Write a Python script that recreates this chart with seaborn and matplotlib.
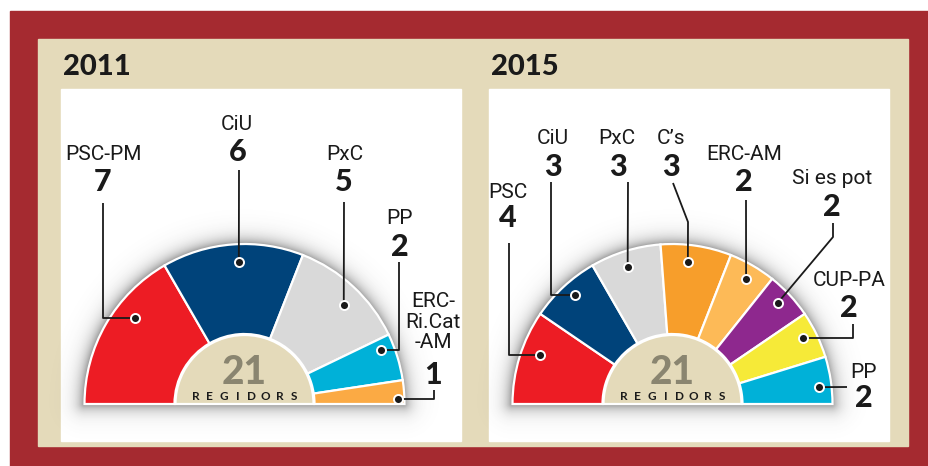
import numpy as np
import matplotlib
matplotlib.use("Agg")
import matplotlib.pyplot as plt
import seaborn as sns
from matplotlib.patches import Rectangle, Wedge
from matplotlib import font_manager

# ---------------- data ----------------
years = ["2011", "2015"]
parties_2011 = ["PSC-PM", "CiU", "PxC", "PP", "ERC-\nRi.Cat\n-AM"]
seats_2011 = [7, 6, 5, 2, 1]
colors_2011 = ["#ED1C24", "#00437A", "#D9D9D9", "#00B1D8", "#FBAA44"]

parties_2015 = ["PSC", "CiU", "PxC", "C\u2019s", "ERC-AM", "Si es pot", "CUP-PA", "PP"]
seats_2015 = [4, 3, 3, 3, 2, 2, 2, 2]
colors_2015 = ["#ED1C24", "#00437A", "#D9D9D9", "#F79E2B", "#FDBA57",
               "#8E288E", "#F6EA38", "#00B1D8"]

total_word = "REGIDORS"

# ---------------- style ----------------
sns.set_theme(style="white")
names = {f.name for f in font_manager.fontManager.ttflist}


def pick(*cands):
    for c in cands:
        if c in names:
            return c
    return "DejaVu Sans"


LABEL_FONT = pick("Liberation Sans Narrow", "Roboto", "Liberation Sans")
HEAVY_FONT = pick("Lato", "Roboto", "Liberation Sans")
plt.rcParams["font.family"] = [LABEL_FONT, "DejaVu Sans"]

W, H = 929, 466
RED = "#A52A30"
BEIGE = "#E4DABA"
INK = "#1A1A1A"


def Y(py):
    return H - py


fig = plt.figure(figsize=(W / 100, H / 100), dpi=100)
ax = fig.add_axes([0, 0, 1, 1])

# frame
ax.add_patch(Rectangle((10, Y(466)), 919, 455, color=RED, zorder=0))
ax.add_patch(Rectangle((38, Y(446)), 870, 407, color=BEIGE, zorder=0.1))
ax.add_patch(Rectangle((61, Y(441)), 400, 352, color="white", zorder=0.2))
ax.add_patch(Rectangle((489, Y(441)), 400, 352, color="white", zorder=0.2))

panels = [
    dict(year=years[0], parties=parties_2011, seats=seats_2011, colors=colors_2011,
         cx=244.5, title_x=63,
         labels=[
             dict(name=(104, 155), num=(103, 182), path="vh", start=(103, 203), r=139, nudge=-8),
             dict(name=(237, 125), num=(238, 152), path="v", start=(239, 170), r=142, nudge=-2),
             dict(name=(345, 155), num=(344, 182), path="v", start=(344, 202), r=140, nudge=-2.3),
             dict(name=(400, 218), num=(400, 247), path="vh", start=(399, 262), r=147, nudge=4.5),
             dict(name=(433, 322), num=(433, 375), path="vh", start=(434, 390), r=154, nudge=-2.4),
         ]),
    dict(year=years[1], parties=parties_2015, seats=seats_2015, colors=colors_2015,
         cx=672.5, title_x=491,
         labels=[
             dict(name=(508, 192), num=(508, 218), path="vh", start=(509, 243), r=141, nudge=-3),
             dict(name=(553, 139), num=(553, 167), path="vh", start=(551, 182), r=146, nudge=-1),
             dict(name=(617, 139), num=(618, 167), path="v", start=(628, 182), r=144, nudge=1),
             dict(name=(671, 139), num=(671, 167), path=[(688, 222)], start=(673, 183), r=143, nudge=2.4),
             dict(name=(744, 155), num=(744, 182), path="v", start=(746, 200), r=145, nudge=-0.5),
             dict(name=(832, 179), num=(832, 207), path=[(833, 237)], start=(833, 223), r=146, nudge=1),
             dict(name=(849, 280), num=(849, 308), path="vh", start=(853, 324), r=146, nudge=1),
             dict(name=(864, 372), num=(864, 398), path="v", start=(847, 387), r=147.5, nudge=-2),
         ]),
]

R_OUT, R_IN = 160, 70
BASE = 404

for p in panels:
    cx, cy = p["cx"], Y(BASE)
    total = sum(p["seats"])

    # soft shadow around the hemicycle
    xs = np.arange(cx - 200, cx + 200, 1.0)
    ys = np.arange(cy - 40, cy + 200, 1.0)
    XX, YY = np.meshgrid(xs, ys)
    rr = np.hypot(XX - cx, YY - cy)
    d_top = np.clip(rr - R_OUT, 0, None)
    dx = np.clip(np.abs(XX - cx) - R_OUT, 0, None)
    d_bot = np.hypot(dx, cy - YY)
    d = np.where(YY >= cy, d_top, d_bot)
    alpha = 0.6 * np.exp(-d / 7.0)
    rgba = np.zeros(XX.shape + (4,))
    rgba[..., :3] = 0.28
    rgba[..., 3] = alpha
    ax.imshow(rgba, extent=(xs[0], xs[-1], ys[0], ys[-1]), origin="lower",
              zorder=0.5, interpolation="bilinear")

    # hemicycle: pie with an invisible lower half
    wedges, _ = ax.pie(p["seats"] + [total], colors=p["colors"] + ["white"],
                       startangle=180, counterclock=False, radius=R_OUT,
                       center=(cx, cy),
                       wedgeprops=dict(width=R_OUT - R_IN, edgecolor="white",
                                       linewidth=1.6))
    wedges[-1].set_visible(False)
    for w in wedges:
        w.set_zorder(2)

    ax.add_patch(Wedge((cx, cy), R_IN - 1, 0, 180, facecolor=BEIGE,
                       edgecolor="white", linewidth=1.6, zorder=3))
    ax.text(cx, Y(372), str(total), ha="center", va="center", fontsize=28,
            fontweight="black", color="#8A8570", zorder=4, family=HEAVY_FONT)
    for i, ch in enumerate(total_word):
        ax.text(cx - 49 + i * 14, Y(396), ch, ha="center", va="center",
                fontsize=8.5, fontweight="bold", color=INK, zorder=4,
                family=HEAVY_FONT)

    # title
    ax.text(p["title_x"], Y(67), p["year"], ha="left", va="center",
            fontsize=21, fontweight="black", color=INK, family=HEAVY_FONT,
            zorder=4)

    # labels with leader lines
    cum = 0
    for name, s, lab in zip(p["parties"], p["seats"], p["labels"]):
        mid = 180 - (cum + s / 2) * 180 / total + lab["nudge"]
        cum += s
        a = np.deg2rad(mid)
        dxp = cx + lab["r"] * np.cos(a)
        dyp = cy + lab["r"] * np.sin(a)
        x0, y0 = lab["start"][0], Y(lab["start"][1])
        if lab["path"] == "vh":
            px = [x0, x0, dxp]
            py = [y0, dyp, dyp]
        elif lab["path"] == "v":
            px = [x0, dxp]
            py = [y0, dyp]
        else:
            px = [x0] + [q[0] for q in lab["path"]] + [dxp]
            py = [y0] + [Y(q[1]) for q in lab["path"]] + [dyp]
        ax.plot(px, py, color=INK, lw=1.3, solid_joinstyle="round",
                solid_capstyle="butt", zorder=5)
        ax.plot([dxp], [dyp], marker="o", ms=6.5, mfc=INK, mec="white", mew=1.4,
                zorder=6)
        ax.text(lab["name"][0], Y(lab["name"][1]), name, ha="center", va="center",
                fontsize=15, color=INK, linespacing=1.1, zorder=6)
        ax.text(lab["num"][0], Y(lab["num"][1]), str(s), ha="center", va="center",
                fontsize=22, fontweight="black", color=INK, zorder=6,
                family=HEAVY_FONT)

ax.set_xlim(0, W)
ax.set_ylim(0, H)
ax.set_aspect("auto")
ax.axis("off")
fig.savefig("out.png", dpi=100, facecolor="white")
